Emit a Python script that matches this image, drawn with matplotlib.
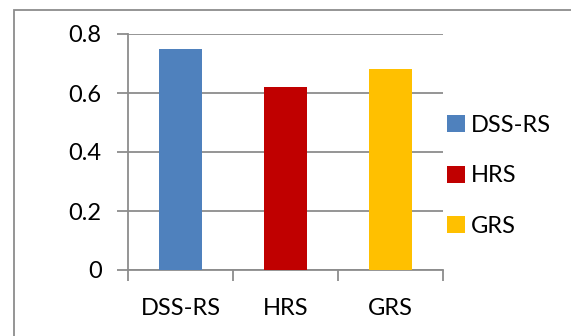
import matplotlib
matplotlib.use("Agg")
import matplotlib.pyplot as plt
from matplotlib.patches import Rectangle, Patch

categories = ["DSS-RS", "HRS", "GRS"]
values = [0.75, 0.62, 0.68]
colors = ["#4F81BD", "#C00000", "#FFC000"]
y_ticks = [0, 0.2, 0.4, 0.6, 0.8]
y_tick_labels = ["0", "0.2", "0.4", "0.6", "0.8"]

plt.rcParams["font.family"] = ["Lato", "DejaVu Sans"]
grid_color = "#8C8C8C"
fs = 17

fig = plt.figure(figsize=(5.71, 3.36), dpi=100)
fig.patches.append(Rectangle((14 / 571, -0.1), 1.2, (336 - 10) / 336 + 0.1,
                             transform=fig.transFigure, fill=False,
                             edgecolor="#8C8C8C", linewidth=1.3))

ax = fig.add_axes([128 / 571, (336 - 270) / 336, (443 - 128) / 571, (270 - 34) / 336])
x = range(len(categories))
ax.bar(x, values, width=0.41, color=colors, zorder=3)
ax.set_xlim(-0.5, 2.5)
ax.set_ylim(0, 0.8)
ax.set_yticks(y_ticks)
ax.set_yticklabels(y_tick_labels)
ax.set_xticks([-0.5, 0.5, 1.5, 2.5], minor=False)
ax.set_xticklabels([])
ax.set_xticks(list(x), minor=True)
ax.set_xticklabels(categories, minor=True)
ax.tick_params(axis="x", which="major", direction="out", length=8, width=1.3, color=grid_color)
ax.tick_params(axis="x", which="minor", length=0, pad=20, labelsize=fs)
ax.tick_params(axis="y", direction="out", length=8, width=1.3, color=grid_color,
               labelsize=fs, pad=11)
ax.yaxis.grid(True, color=grid_color, linewidth=1.3, zorder=0)
for s in ["top", "right"]:
    ax.spines[s].set_visible(False)
for s in ["left", "bottom"]:
    ax.spines[s].set_color(grid_color)
    ax.spines[s].set_linewidth(1.3)

handles = [Patch(facecolor=c, edgecolor="none") for c in colors]
fig.legend(handles, categories, loc="center left", bbox_to_anchor=(447 / 571, 1 - 176 / 336),
           frameon=False, fontsize=fs, handlelength=0.75, handleheight=0.75,
           handletextpad=0.25, labelspacing=1.25, borderaxespad=0, borderpad=0)

fig.savefig("out.png", dpi=100)
